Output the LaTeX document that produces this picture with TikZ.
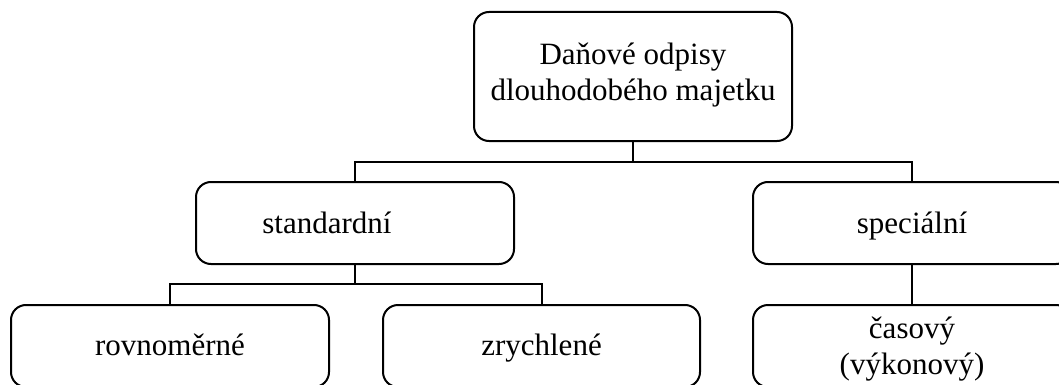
\documentclass[tikz,border=0pt]{standalone}
\usepackage{fontspec}
\setmainfont{Liberation Serif}
% centred lines, first baseline raised by #1 above the node centre
\newcommand\boxtext[2]{\makebox[0pt]{\raisebox{#1}[0pt][0pt]{\vtop{\halign{\hfil##\hfil\cr#2\crcr}}}}}
\begin{document}
\begin{tikzpicture}[x=1pt,y=-1pt,
  box/.style={draw, line width=2pt, rounded corners=15pt,
    minimum width=318pt, minimum height=82pt, inner sep=0pt,
    font=\fontsize{31}{36}\selectfont},
  link/.style={line width=2pt, line join=miter}]
\useasboundingbox (0,0) rectangle (1059,385);
\clip (0,0) rectangle (1059,385);

% root
\node[box, minimum height=129pt] (root) at (633,76.5)
  {\boxtext{11.5pt}{Daňové odpisy\cr dlouhodobého majetku}};

% second level
\node[box] (std)  at (355,223) {\boxtext{-10pt}{\kern-56pt standardní}};
\node[box] (spec) at (912,223) {\boxtext{-10pt}{speciální}};

% third level
\node[box] (rov) at (170,346)   {\boxtext{-9.5pt}{rovnoměrné}};
\node[box, minimum width=317pt] (zry) at (541.5,346) {\boxtext{-9.5pt}{zrychlené}};
\node[box] (cas) at (912,346) {\boxtext{8pt}{časový\cr (výkonový)}};

% connectors
\coordinate (j1) at (633,162);
\coordinate (j2) at (355,284);
\draw[link] (root.south) -- (j1);
\draw[link] (std.north) |- (j1) -| (spec.north);
\draw[link] (std.south) -- (j2);
\draw[link] (rov.north) |- (j2) -| (zry.north);
\draw[link] (spec.south) -- (cas.north);
\end{tikzpicture}
\end{document}
